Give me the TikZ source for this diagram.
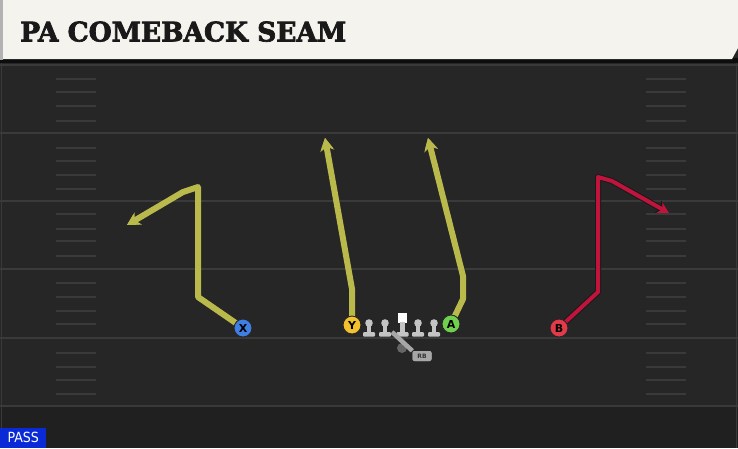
\documentclass[tikz,border=0pt]{standalone}
\usepackage{fontspec}
\setmainfont{DejaVu Sans}
\newfontfamily\titlefont{DejaVu Serif Condensed}[BoldFeatures={FakeBold=2.5}]
\newfontfamily\passfont{DejaVu Sans Condensed}
\usetikzlibrary{arrows.meta}
\definecolor{fieldbg}{HTML}{262626}
\definecolor{fieldline}{HTML}{3A3A3A}
\definecolor{cream}{HTML}{F5F3EE}
\definecolor{routeY}{HTML}{BABA4C}
\definecolor{routeR}{HTML}{C0143C}
\definecolor{plX}{HTML}{3F7FE3}
\definecolor{plY}{HTML}{F2C12E}
\definecolor{plA}{HTML}{70D04E}
\definecolor{plB}{HTML}{E23A48}
\definecolor{lineman}{HTML}{C4C4C4}
\definecolor{passblue}{HTML}{0A2AD8}
\pgfdeclarelayer{bg}
\pgfsetlayers{bg,main}
\tikzset{
  player/.style={circle,draw=black!85,line width=0.9pt,minimum size=18pt,inner sep=0pt,
    font=\bfseries\fontsize{11}{11}\selectfont,text=black},
  yardline/.style={fieldline,line width=2pt},
  hashline/.style={fieldline,line width=1.5pt},
  routeunder/.style={line width=6pt,black!90,line join=round,-{Stealth[length=13pt,width=14pt,inset=4pt]}},
  routetop/.style={line width=4pt,line join=round,-{Stealth[length=11pt,width=12pt,inset=3.5pt]}},
  linemanpart/.style={fill=lineman,draw=none},
  rbbox/.style={fill=lineman!85!black,rounded corners=2pt,minimum width=19pt,minimum height=10pt,inner sep=0pt,
    font=\bfseries\fontsize{6}{6}\selectfont,text=black!80},
}
\begin{document}
\begin{tikzpicture}[x=1pt,y=-1pt]
\useasboundingbox (0,0) rectangle (738,448);
\begin{pgfonlayer}{bg}
% field
\fill[fieldbg] (0,0) rectangle (738,448);
\fill[black!15!fieldbg] (0,407) rectangle (738,448);
\draw[fieldline,line width=1.5pt] (1.5,60) -- (1.5,448);
\draw[fieldline,line width=1.5pt] (736.5,60) -- (736.5,448);
\foreach \y in {65,133,201,269,338,406}
  \draw[yardline] (0,\y) -- (738,\y);
\foreach \y in {79,92,106,121,148,161,175,189,214,229,241,256,283,297,311,324,353,367,380,394}{
  \draw[hashline] (56,\y) -- (96,\y);
  \draw[hashline] (646,\y) -- (686,\y);
}
% header
\fill[black!95] (0,58) rectangle (738,63);
\fill[black!30] (0,0) rectangle (3,60);
\fill[cream] (3,0) -- (738,0) -- (738,48) -- (732,59) -- (3,59) -- cycle;
\end{pgfonlayer}
\node[anchor=south west,inner sep=0pt,text=black!90] (title) at (20,42)
  {\resizebox{326pt}{20pt}{\titlefont\bfseries PA COMEBACK SEAM}};
% players
\node[player,fill=plX] (X) at (243,328) {X};
\node[player,fill=plY] (Y) at (352,325) {Y};
\node[player,fill=plA] (A) at (451,324) {A};
\node[player,fill=plB] (B) at (559,328) {B};
% offensive line
\foreach \x in {369,385,418,434}{
  \fill[linemanpart] (\x,323) circle (3.8);
  \fill[linemanpart] (\x-2.2,323) rectangle (\x+2.2,333);
  \fill[linemanpart,rounded corners=1pt] (\x-6,332) rectangle (\x+6,336.5);
}
\node[fill=white,minimum size=9.5pt,inner sep=0pt] (C) at (402.5,318) {};
\fill[linemanpart] (400.3,322) rectangle (404.7,333);
\fill[linemanpart,rounded corners=1pt] (396.5,332) rectangle (408.5,336.5);
% QB and RB
\node[circle,fill=black!60,minimum size=10pt,inner sep=0pt] (QB) at (402,348) {};
\node[rbbox] (RB) at (422,356) {RB};
\draw[lineman!85!black,line width=4.5pt] (392,332) -- (RB.north west);
\node[rbbox] at (RB) {RB};
% routes
\begin{pgfonlayer}{bg}
\foreach \s/\c in {routeunder/routeY,routetop/routeY}{
  \draw[\s,\c] (X.center) -- (198,297) -- (198,187) -- (183,192) -- (127,225);
  \draw[\s,\c] (Y.center) -- (352,289) -- (325,138);
  \draw[\s,\c] (A.center) -- (463,299) -- (463,276) -- (428,138);
}
\draw[routeunder] (B.center) -- (598,292) -- (598,177) -- (612,181) -- (669,213);
\draw[routetop,routeR] (B.center) -- (598,292) -- (598,177) -- (612,181) -- (669,213);
\end{pgfonlayer}
% PASS label
\node[fill=passblue,anchor=south west,minimum width=46pt,minimum height=20pt,inner sep=0pt,
  text=white,font=\passfont\fontsize{14}{14}\selectfont] (pass) at (0,448) {PASS};
\end{tikzpicture}
\end{document}
